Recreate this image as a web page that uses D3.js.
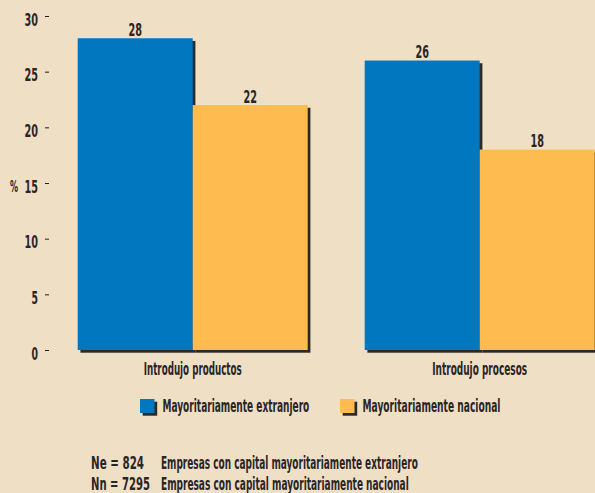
<!DOCTYPE html>
<html><head><meta charset="utf-8">
<script src="https://cdn.jsdelivr.net/npm/d3@7"></script>
<style>
html,body{margin:0;padding:0;background:#EEDFC5;}
text{font-family:"DejaVu Sans Condensed","DejaVu Sans",sans-serif;fill:#2a2526;font-weight:bold;}
</style></head><body>
<svg id="c" width="595" height="493"></svg>
<script>
const categories = ["Introdujo productos", "Introdujo procesos"];
const seriesNames = ["Mayoritariamente extranjero", "Mayoritariamente nacional"];
const extranjero = [28, 26];
const nacional = [22, 18];
const yTicks = [0, 5, 10, 15, 20, 25, 30];
const noteKeys = ["Ne = 824", "Nn = 7295"];
const noteTexts = ["Empresas con capital mayoritariamente extranjero", "Empresas con capital mayoritariamente nacional"];
const colors = ["#0077BF", "#FDBB50"];
const shadow = "#2b2a29";

const svg = d3.select("#c");
const y = d3.scaleLinear().domain([0, 30]).range([350, 16]);
const x0 = d3.scaleBand().domain(categories).range([77.7, 594.7]).paddingInner(0.1986).paddingOuter(0);
const x1 = d3.scaleBand().domain(seriesNames).range([0, x0.bandwidth()]);
const series = [extranjero, nacional];

// fit text horizontally to a target width (condensed look)
function txt(x, yy, s, size, w, anchor) {
  const g = svg.append("g");
  const t = g.append("text").attr("font-size", size).attr("text-anchor", anchor || "start").text(s);
  const L = t.node().getComputedTextLength();
  const sx = w / L;
  g.attr("transform", `translate(${x},${yy}) scale(${sx},1)`);
  return g;
}

// y axis ticks
const yAxis = d3.axisLeft(y).tickValues(yTicks).tickSize(4).tickFormat("");
const gy = svg.append("g").attr("transform", "translate(49,0)").call(yAxis);
gy.select(".domain").remove();
gy.selectAll(".tick line").attr("stroke", "#231f20").attr("stroke-width", 1);
yTicks.forEach(t => txt(38, y(t) + 9.5, t, 18, String(t).length === 1 ? 6.5 : 13.5, "end"));
txt(10, y(15) + 9, "%", 15, 8, "start");

// shadows
categories.forEach((c, i) => {
  series.forEach((s, j) => {
    const bx = x0(c) + x1(seriesNames[j]);
    svg.append("rect").attr("x", bx + 2.7).attr("y", y(s[i]) + 2.7)
      .attr("width", x1.bandwidth()).attr("height", y(0) - y(s[i]))
      .attr("fill", shadow);
  });
});
// bars + value labels
categories.forEach((c, i) => {
  series.forEach((s, j) => {
    const bx = x0(c) + x1(seriesNames[j]);
    svg.append("rect").attr("x", bx).attr("y", y(s[i]))
      .attr("width", x1.bandwidth()).attr("height", y(0) - y(s[i]))
      .attr("fill", colors[j]);
    txt(bx + x1.bandwidth() / 2, y(s[i]) - 2.5, s[i], 18, 13.5, "middle");
  });
  txt(x0(c) + x0.bandwidth() / 2, 374.5, c, 17, i === 0 ? 98 : 95, "middle");
});

// legend
const legX = [140, 340];
const legW = [147, 138];
seriesNames.forEach((n, j) => {
  svg.append("rect").attr("x", legX[j] + 2.7).attr("y", 401.7).attr("width", 14.5).attr("height", 14).attr("fill", shadow);
  svg.append("rect").attr("x", legX[j]).attr("y", 399).attr("width", 14.5).attr("height", 14).attr("fill", colors[j]);
  txt(legX[j] + 22.5, 411.7, n, 17, legW[j], "start");
});

// notes
const keyW = [53, 59];
const noteW = [257, 248];
noteKeys.forEach((k, i) => {
  txt(91, 469 + i * 21, k, 17, keyW[i], "start");
  txt(161, 469 + i * 21, noteTexts[i], 17, noteW[i], "start");
});
</script></body></html>
